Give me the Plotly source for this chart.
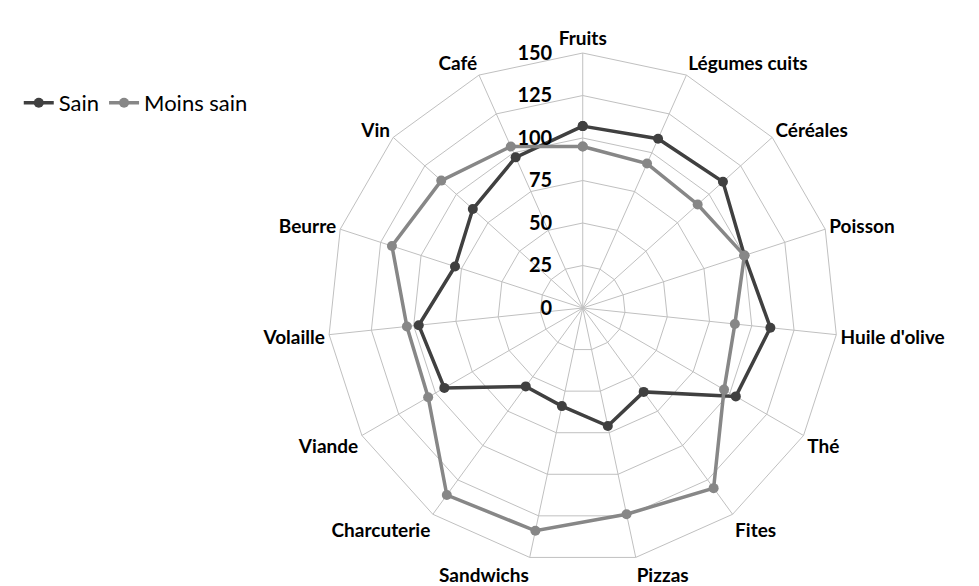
import plotly.graph_objects as go

categories = ["Fruits", "Légumes cuits", "Céréales", "Poisson", "Huile d'olive", "Thé",
              "Fites", "Pizzas", "Sandwichs", "Charcuterie", "Viande", "Volaille",
              "Beurre", "Vin", "Café"]
sain = [107, 109, 111, 100, 111, 104, 61, 71, 59, 57, 94, 97, 79, 87, 97]
moins_sain = [95, 93, 91, 100, 90, 96, 131, 124, 134, 136, 105, 104, 118, 112, 104]
radial_ticks = [0, 25, 50, 75, 100, 125, 150]

FONT = "Lato"

def closed(v):
    return list(v) + [v[0]]

fig = go.Figure()
fig.add_trace(go.Scatterpolar(
    r=closed(sain), theta=closed(categories), name="Sain", mode="lines+markers",
    line=dict(color="#404040", width=3.5), marker=dict(color="#404040", size=10),
))
fig.add_trace(go.Scatterpolar(
    r=closed(moins_sain), theta=closed(categories), name="Moins sain", mode="lines+markers",
    line=dict(color="#878787", width=3.5), marker=dict(color="#878787", size=10),
))

fig.update_layout(
    width=979, height=586,
    margin=dict(l=0, r=0, t=0, b=0),
    paper_bgcolor="white", plot_bgcolor="white",
    font=dict(family=FONT, color="black"),
    polar=dict(
        domain=dict(x=[0.3266, 0.8475], y=[0.0529, 0.9232]),
        gridshape="linear",
        bgcolor="white",
        radialaxis=dict(
            range=[0, 150], tickvals=radial_ticks, angle=90, tickangle=90,
            side="counterclockwise", showline=False, gridcolor="#c0c0c0", gridwidth=1,
            ticks="outside", ticklen=23, tickcolor="rgba(0,0,0,0)",
            tickfont=dict(family=FONT, size=20, color="black", weight="bold"),
        ),
        angularaxis=dict(
            direction="clockwise", rotation=90, showline=True, linecolor="#c0c0c0",
            linewidth=1, gridcolor="#c0c0c0", gridwidth=1,
            ticks="",
            tickfont=dict(family=FONT, size=19, color="black", weight="bold"),
        ),
    ),
    legend=dict(
        orientation="h", x=0.011, y=0.838, xanchor="left", yanchor="middle",
        font=dict(family=FONT, size=22, color="black"), bgcolor="rgba(0,0,0,0)",
        itemwidth=30, tracegroupgap=0,
    ),
)

fig.write_html("out.html")
